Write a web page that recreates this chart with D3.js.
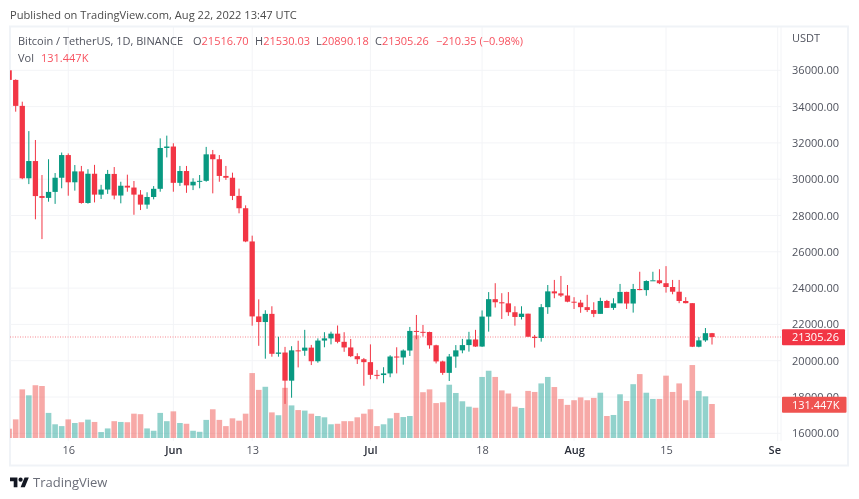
<!DOCTYPE html>
<html>
<head>
<meta charset="utf-8">
<script src="https://cdn.jsdelivr.net/npm/d3@7"></script>
<style>
  html, body { margin: 0; padding: 0; background: #fff; }
  svg { display: block; filter: blur(0.35px); }
  text { font-family: "Open Sans", sans-serif; }
</style>
</head>
<body>
<div id="chart"></div>
<script>
// daily candles, first one is 7 May 2022
const firstDay = '2022-05-07';
const opens = [36000,35470,34040,30050,31000,29070,28970,29300,30080,31330,29830,30430,28690,30300,29150,29430,30290,29100,29640,29540,29150,28600,29020,29470,31720,31800,29800,30450,29660,29860,29910,31370,31100,30180,30080,29080,28400,26570,22440,22130,22580,20380,20450,18900,20570,20550,20720,19970,21110,21230,21490,21040,20730,20250,20080,19920,19220,19210,19300,20230,20180,20560,21640,21590,21580,20850,19960,19330,20230,20570,20860,21170,20780,22430,23390,23220,23160,22670,22410,22590,21320,21250,22950,23820,23710,23590,23250,23200,22950,22790,22580,23290,22910,23160,23790,23150,23950,23890,24390,24430,24270,24060,23800,23290,23170,20770,21120,21516.70];
const closes = [35470,34040,30050,31000,29070,28970,29300,30080,31330,29830,30430,28690,30300,29150,29430,30290,29100,29640,29540,29150,28600,29020,29470,31720,31800,29800,30450,29660,29860,29910,31370,31100,30180,30080,29080,28400,26570,22440,22130,22580,20380,20450,18900,20570,20550,20720,19970,21110,21230,21490,21040,20730,20250,20080,19920,19220,19210,19300,20230,20180,20560,21640,21590,21580,20850,19960,19330,20230,20570,20860,21170,20780,22430,23390,23220,23160,22670,22410,22590,21320,21250,22950,23820,23710,23590,23250,23200,22950,22790,22580,23290,22910,23160,23790,23150,23950,23890,24390,24430,24270,24060,23800,23290,23170,20770,21120,21516.70,21305.26];
const highs = [36200,35500,34270,32650,32160,30230,31100,30340,31470,31420,30780,30730,30550,30790,29690,30510,30670,29860,30250,29900,29400,29280,29620,32250,32400,31980,30730,30730,30050,30230,31780,31610,31330,30730,30360,29480,28560,26890,23380,22780,23000,21320,20760,20800,21100,21700,20870,21230,21570,21600,21940,21570,21200,20410,20150,20900,19490,19640,20300,20740,20620,21860,22520,21970,21600,20880,20000,20370,20860,21200,21590,21700,22770,23780,24270,23720,23780,23000,23000,22590,21420,23120,24170,24450,24670,24170,23500,23350,23630,23220,23470,23350,23440,24230,23800,24230,24900,24430,24900,25040,25210,24450,24450,23500,23170,21300,21800,21530.03];
const lows = [35400,33720,30000,29730,27790,26700,28760,28640,29500,29090,29370,28650,28650,28720,28910,29190,28890,28670,29310,28040,28300,28370,28890,29310,31200,29310,29630,29250,29400,29500,29860,29220,29860,29960,28850,28120,26530,21930,20820,20110,20220,20220,17620,17960,19630,20270,19760,19890,20740,20900,20960,20490,20200,19820,18620,18980,18980,18760,19090,19300,19780,20260,21180,21330,20660,19850,19220,18880,19610,20410,20500,20760,20760,21600,22930,22300,22470,21930,22270,21320,20720,21050,22580,23440,23510,23220,22850,22640,22680,22400,22590,22910,22800,23790,22850,22650,23880,23580,24420,24220,23750,23660,23170,23160,20750,20740,21040,20890.18];
const volumes = [36,72,188,165,204,201,97,53,46,72,58,61,71,62,23,37,65,62,61,94,92,37,28,97,65,103,58,55,28,24,70,111,70,46,76,67,94,251,186,198,99,88,194,126,108,106,94,85,80,53,55,65,65,80,94,111,46,53,76,97,81,85,397,177,188,135,138,206,174,142,121,117,236,260,236,184,172,121,116,182,178,211,236,197,151,128,146,157,146,155,175,85,89,169,143,208,247,175,151,151,241,178,211,146,282,182,161,131.447];

const priceTicks = [36000,34000,32000,30000,28000,26000,24000,22000,20000,18000,16000];
const timeTicks = ['2022-05-16','2022-06-01','2022-06-13','2022-07-01','2022-07-18','2022-08-01','2022-08-15','2022-09-01'];
const timeLabels = ['16','Jun','13','Jul','18','Aug','15','Sep'];
const monthLabels = ['Jun','Jul','Aug','Sep'];

const lastPrice = 21305.26;
const lastVolume = 131.447;
const legendParts = [['O','21516.70',193],['H','21530.03',255],['L','20890.18',316],['C','21305.26',375]];
const legendChange = '\u2212210.35 (\u22120.98%)';

const width = 859, height = 499;
const paneRight = 781, paneBottom = 441;
const upColor = '#089981', downColor = '#f23645';
const upVol = '#26a69a', downVol = '#ef5350';
const gridColor = '#f3f4f7', frameColor = '#f0f3f7';
const fontFamily = '"Open Sans", sans-serif';
const fontSize = 11;

const parseDay = d3.utcParse('%Y-%m-%d');
const days = opens.map((d, i) => d3.utcDay.offset(parseDay(firstDay), i));

const x = d3.scaleUtc()
    .domain([parseDay('2022-05-08'), parseDay('2022-08-22')])
    .range([15.7, 712]);
const y = d3.scaleLinear().domain([16000, 36000]).range([433.3, 70.3]);
const yVol = d3.scaleLinear().domain([0, 397]).range([438, 335.3]);

const bodyW = 5.3, volW = 5.6;

const svg = d3.select('#chart').append('svg')
    .attr('width', width)
    .attr('height', height);

svg.append('clipPath').attr('id', 'pane').append('rect')
    .attr('x', 10).attr('y', 27).attr('width', paneRight - 10).attr('height', paneBottom - 27);

svg.append('text').attr('x', 10).attr('y', 19)
    .attr('font-size', 11.12).attr('fill', '#4a4a4a')
    .text('Published on TradingView.com, Aug 22, 2022 13:47 UTC');

svg.append('rect')
    .attr('x', 10).attr('y', 26.5).attr('width', 838).attr('height', 439)
    .attr('fill', 'none').attr('stroke', frameColor).attr('stroke-width', 2);

// 1. grid
const grid = svg.append('g').attr('clip-path', 'url(#pane)');
grid.selectAll('.gy').data(priceTicks).join('line')
    .attr('x1', 10).attr('x2', 782)
    .attr('y1', d => y(d)).attr('y2', d => y(d))
    .attr('stroke', gridColor);
grid.selectAll('.gx').data(timeTicks).join('line')
    .attr('x1', d => x(parseDay(d))).attr('x2', d => x(parseDay(d)))
    .attr('y1', 27).attr('y2', paneBottom)
    .attr('stroke', gridColor);

svg.append('line')
    .attr('x1', paneRight).attr('x2', paneRight)
    .attr('y1', 27).attr('y2', paneBottom)
    .attr('stroke', gridColor);

// 2. volume, then candles on top
const plot = svg.append('g').attr('clip-path', 'url(#pane)');
plot.selectAll('.vol').data(days).join('rect')
    .attr('x', d => x(d) - volW / 2)
    .attr('width', volW)
    .attr('y', (d, i) => yVol(volumes[i]))
    .attr('height', (d, i) => yVol(0) - yVol(volumes[i]))
    .attr('fill', (d, i) => closes[i] >= opens[i] ? upVol : downVol)
    .attr('fill-opacity', 0.5);

plot.append('line')
    .attr('x1', 10).attr('x2', paneRight)
    .attr('y1', y(lastPrice)).attr('y2', y(lastPrice))
    .attr('stroke', downColor).attr('stroke-opacity', 0.6).attr('stroke-dasharray', '1 1.5');

plot.selectAll('.wick').data(days).join('line')
    .attr('x1', d => x(d)).attr('x2', d => x(d))
    .attr('y1', (d, i) => y(highs[i]))
    .attr('y2', (d, i) => y(lows[i]))
    .attr('stroke', (d, i) => closes[i] >= opens[i] ? upColor : downColor);

plot.selectAll('.body').data(days).join('rect')
    .attr('x', d => x(d) - bodyW / 2)
    .attr('width', bodyW)
    .attr('y', (d, i) => y(Math.max(opens[i], closes[i])))
    .attr('height', (d, i) => Math.max(1, Math.abs(y(opens[i]) - y(closes[i]))))
    .attr('fill', (d, i) => closes[i] >= opens[i] ? upColor : downColor);

// 3. axes
const yAxis = d3.axisRight(y).tickValues(priceTicks).tickSize(0).tickPadding(0).tickFormat(d3.format('.2f'));
const yG = svg.append('g').attr('transform', 'translate(839,0)').call(yAxis);
yG.select('.domain').remove();
yG.selectAll('text')
    .attr('text-anchor', 'end')
    .attr('font-family', fontFamily)
    .attr('font-size', fontSize)
    .attr('fill', '#50535e');

const xAxis = d3.axisBottom(x)
    .tickValues(timeTicks.map(parseDay))
    .tickSize(0).tickPadding(0)
    .tickFormat((d, i) => timeLabels[i]);
svg.append('clipPath').attr('id', 'timeClip').append('rect')
    .attr('x', 10).attr('y', 441).attr('width', paneRight - 10).attr('height', 24);
const xG = svg.append('g').attr('clip-path', 'url(#timeClip)')
    .append('g').attr('transform', 'translate(0,446)').call(xAxis);
xG.select('.domain').remove();
xG.selectAll('text')
    .attr('font-family', fontFamily)
    .attr('font-size', fontSize)
    .attr('font-weight', (d, i) => monthLabels.includes(timeLabels[i]) ? 600 : 400)
    .attr('fill', (d, i) => monthLabels.includes(timeLabels[i]) ? '#2a2e39' : '#50535e');

svg.append('text').attr('x', 792).attr('y', 42)
    .attr('font-size', fontSize).attr('fill', '#50535e').text('USDT');

// 4. last value tags
const tags = [
    { mid: y(lastPrice) + 0.2, w: 63, fill: downColor, label: d3.format('.2f')(lastPrice) },
    { mid: 404.7, w: 64.5, fill: downVol, label: lastVolume + 'K' }
];
tags.forEach(t => {
    svg.append('rect')
        .attr('x', 782).attr('y', t.mid - 8).attr('width', t.w).attr('height', 16)
        .attr('rx', 1).attr('fill', t.fill);
    svg.append('text')
        .attr('x', 792).attr('y', t.mid + 4)
        .attr('font-size', fontSize).attr('fill', '#fff').text(t.label);
});

// 5. legend
svg.append('text').attr('x', 18).attr('y', 45)
    .attr('font-size', fontSize).attr('fill', '#50535e')
    .text('Bitcoin / TetherUS, 1D, BINANCE');
legendParts.forEach(p => {
    const t = svg.append('text').attr('x', p[2]).attr('y', 45).attr('font-size', fontSize);
    t.append('tspan').attr('fill', '#50535e').text(p[0]);
    t.append('tspan').attr('fill', '#f7525f').text(p[1]);
});
svg.append('text').attr('x', 436).attr('y', 45)
    .attr('font-size', fontSize).attr('fill', '#f7525f').text(legendChange);
svg.append('text').attr('x', 18).attr('y', 62)
    .attr('font-size', fontSize).attr('fill', '#50535e').text('Vol');
svg.append('text').attr('x', 41).attr('y', 62)
    .attr('font-size', fontSize).attr('fill', '#f7525f').text(lastVolume + 'K');

// 6. footer logo
const logo = svg.append('g').attr('transform', 'translate(10,475.5) scale(0.53)').attr('fill', '#131722');
logo.append('path').attr('d', 'M14 22H7V11H0V4h14v18zM28 22h-8l7.5-18h8L28 22z');
logo.append('circle').attr('cx', 20).attr('cy', 8).attr('r', 4);
svg.append('text').attr('x', 33).attr('y', 487)
    .attr('font-size', 13).attr('fill', '#6a6d78').text('TradingView');
</script>
</body>
</html>
